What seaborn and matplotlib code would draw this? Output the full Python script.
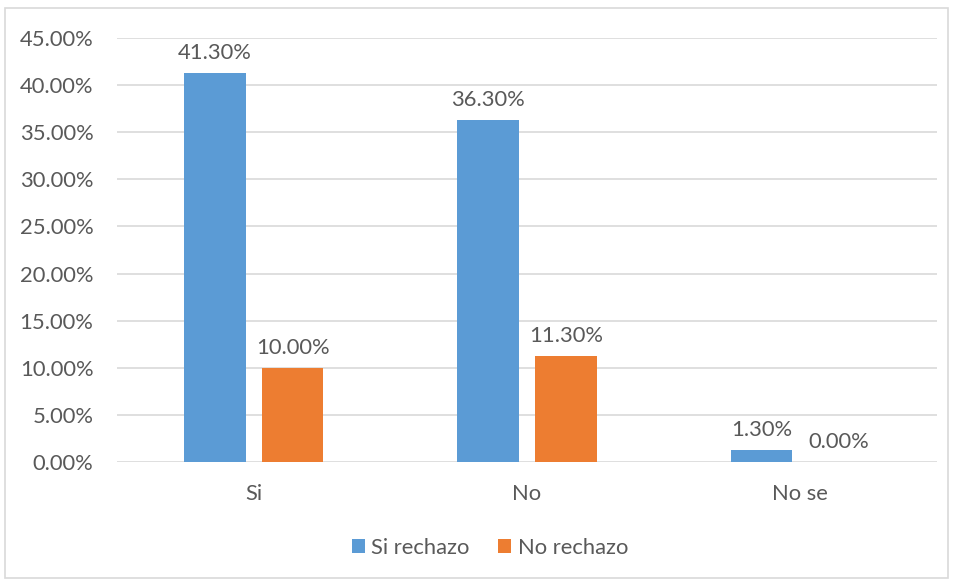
import matplotlib
matplotlib.use("Agg")
import matplotlib.pyplot as plt
import matplotlib.patches as mpatches
import seaborn as sns
import pandas as pd

categories = ["Si", "No", "No se"]
si_rechazo = [41.3, 36.3, 1.3]
no_rechazo = [10.0, 11.3, 0.0]
series_names = ["Si rechazo", "No rechazo"]
y_ticks = [0, 5, 10, 15, 20, 25, 30, 35, 40, 45]

df = pd.DataFrame({
    "categoria": categories * 2,
    "valor": si_rechazo + no_rechazo,
    "serie": [series_names[0]] * 3 + [series_names[1]] * 3,
})

sns.set_theme(style="white")
plt.rcParams["font.family"] = ["Lato", "DejaVu Sans"]
text_color = "#595959"
grid_color = "#D9D9D9"
fs = 15.8

fig = plt.figure(figsize=(9.54, 5.81), dpi=100)
ax = fig.add_axes([0.1226, 0.2048, 0.8596, 0.7298])

sns.barplot(data=df, x="categoria", y="valor", hue="serie", order=categories,
            hue_order=series_names, palette=["#5B9BD5", "#ED7D31"],
            width=0.569, gap=0.206, ax=ax, legend=True, saturation=1,
            linewidth=0)

for cont in ax.containers:
    ax.bar_label(cont, labels=[f"{v:.2f}%" for v in cont.datavalues],
                 padding=7, fontsize=fs, color=text_color)

ax.set_ylim(0, 45)
ax.set_xlim(-0.5, 2.5)
ax.set_yticks(y_ticks)
ax.set_yticklabels([f"{t:.2f}%" for t in y_ticks])
ax.yaxis.grid(True, color=grid_color, linewidth=1.2)
ax.set_axisbelow(True)
for s in ax.spines.values():
    s.set_visible(False)
ax.tick_params(axis="both", length=0, labelsize=fs, labelcolor=text_color)
ax.tick_params(axis="y", pad=17)
ax.tick_params(axis="x", pad=16)
ax.set_xlabel("")
ax.set_ylabel("")

handles, labels = ax.get_legend_handles_labels()
ax.get_legend().remove()
fig.legend(handles, labels, loc="center", bbox_to_anchor=(490 / 954, 1 - 548 / 581),
           ncol=2, frameon=False, fontsize=fs, labelcolor=text_color,
           handlelength=0.6, handleheight=0.6, handletextpad=0.3, columnspacing=1.3)

fig.patches.append(mpatches.Rectangle((5 / 954, 3 / 581), 943 / 954, 570 / 581,
                                      transform=fig.transFigure, fill=False,
                                      edgecolor=grid_color, linewidth=1.2))

fig.savefig("out.png", dpi=100)
